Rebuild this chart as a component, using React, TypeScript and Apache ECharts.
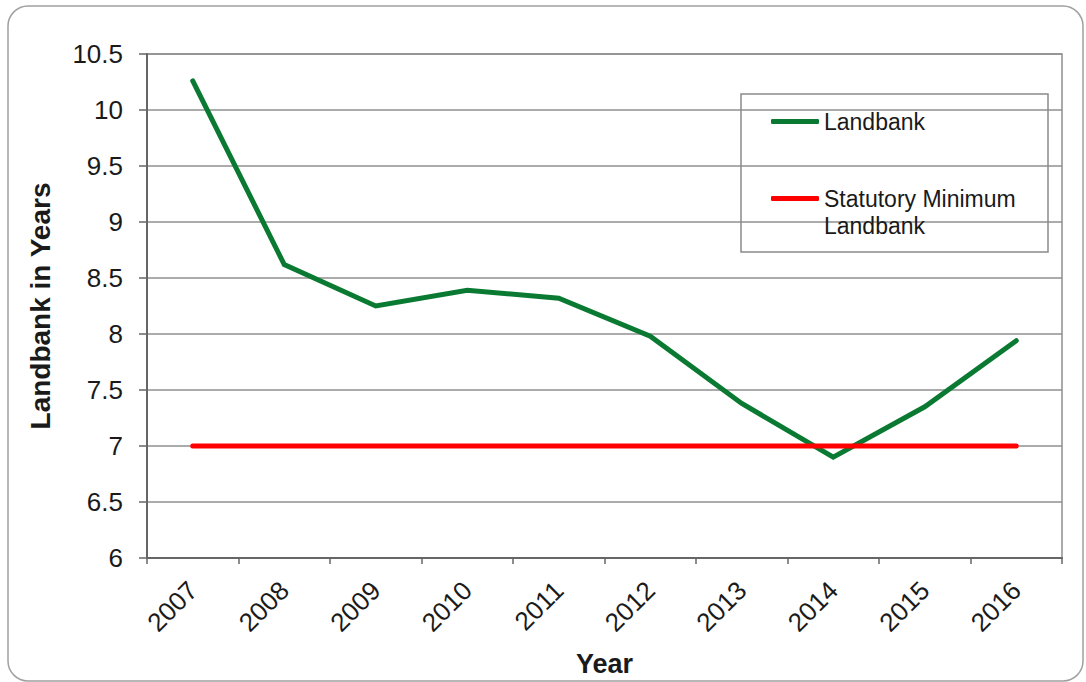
import React, { useEffect, useRef } from "react";
import * as echarts from "echarts";

const years = ["2007", "2008", "2009", "2010", "2011", "2012", "2013", "2014", "2015", "2016"];
const landbank = [10.26, 8.62, 8.25, 8.39, 8.32, 7.98, 7.38, 6.9, 7.35, 7.94];
const statutoryMinimum = [7, 7, 7, 7, 7, 7, 7, 7, 7, 7];
const seriesNames = ["Landbank", "Statutory Minimum\nLandbank"];
const seriesColors = ["#0a7a33", "#ff0000"];

const FONT = "'Liberation Sans', Arial, sans-serif";
const TEXT = "#1a1a1a";

export default function App() {
  const ref = useRef<HTMLDivElement>(null);

  useEffect(() => {
    if (!ref.current) return;
    const chart = echarts.init(ref.current, undefined, { renderer: "svg" });
    chart.setOption({
      animation: false,
      backgroundColor: "#ffffff",
      textStyle: { fontFamily: FONT },
      grid: {
        left: 147,
        right: 24,
        top: 54,
        bottom: 124,
        outerBoundsMode: "none",
        containLabel: false,
        show: true,
        borderColor: "#8f8f8f",
        borderWidth: 1.5,
      },
      legend: {
        left: 741,
        top: 94,
        orient: "vertical",
        padding: [14, 0, 12, 30],
        itemWidth: 48,
        itemHeight: 5,
        itemGap: 23,
        icon: "roundRect",
        textStyle: { fontSize: 23, color: TEXT, fontFamily: FONT, lineHeight: 27 },
        // the blank first line keeps the marker level with "Statutory Minimum"
        formatter: (name: string) => (name === seriesNames[1] ? "\u00a0\n" + name : name),
        data: seriesNames,
      },
      graphic: [
        {
          type: "rect",
          shape: { x: 8, y: 6, width: 1075, height: 675, r: 20 },
          style: { fill: "none", stroke: "#a0a0a0", lineWidth: 1.5 },
          silent: true,
        },
        {
          type: "rect",
          shape: { x: 741, y: 94, width: 307, height: 158 },
          style: { fill: "none", stroke: "#8a8a8a", lineWidth: 1.5 },
          silent: true,
          z: 10,
        },
      ],
      xAxis: {
        type: "category",
        data: years,
        boundaryGap: true,
        name: "Year",
        nameLocation: "middle",
        nameGap: 92,
        nameTextStyle: { fontSize: 27, fontWeight: "bold", color: TEXT, fontFamily: FONT },
        axisLine: { lineStyle: { color: "#666666", width: 2 } },
        axisTick: { show: true, length: 6, lineStyle: { color: "#666666", width: 1.5 } },
        axisLabel: { rotate: 45, fontSize: 26, color: TEXT, margin: 28, fontFamily: FONT },
        splitLine: { show: false },
      },
      yAxis: {
        type: "value",
        min: 6,
        max: 10.5,
        interval: 0.5,
        name: "Landbank in Years",
        nameLocation: "middle",
        nameGap: 93,
        nameTextStyle: { fontSize: 28, fontWeight: "bold", color: TEXT, fontFamily: FONT },
        axisLine: { show: true, lineStyle: { color: "#666666", width: 2 } },
        axisTick: { show: true, length: 8, lineStyle: { color: "#666666", width: 1.5 } },
        axisLabel: { fontSize: 26, color: TEXT, margin: 24, fontFamily: FONT },
        splitLine: { show: true, lineStyle: { color: "#8f8f8f", width: 1.5 } },
      },
      series: [
        {
          name: seriesNames[0],
          type: "line",
          data: landbank,
          symbol: "none",
          color: seriesColors[0],
          lineStyle: { color: seriesColors[0], width: 5, cap: "round", join: "miter" },
          z: 3,
        },
        {
          name: seriesNames[1],
          type: "line",
          data: statutoryMinimum,
          symbol: "none",
          color: seriesColors[1],
          lineStyle: { color: seriesColors[1], width: 5, cap: "round" },
          z: 4,
        },
      ],
    });
    return () => chart.dispose();
  }, []);

  return (
    <div
      ref={ref}
      style={{ position: "absolute", left: 0, top: 0, width: 1086, height: 682 }}
    />
  );
}
